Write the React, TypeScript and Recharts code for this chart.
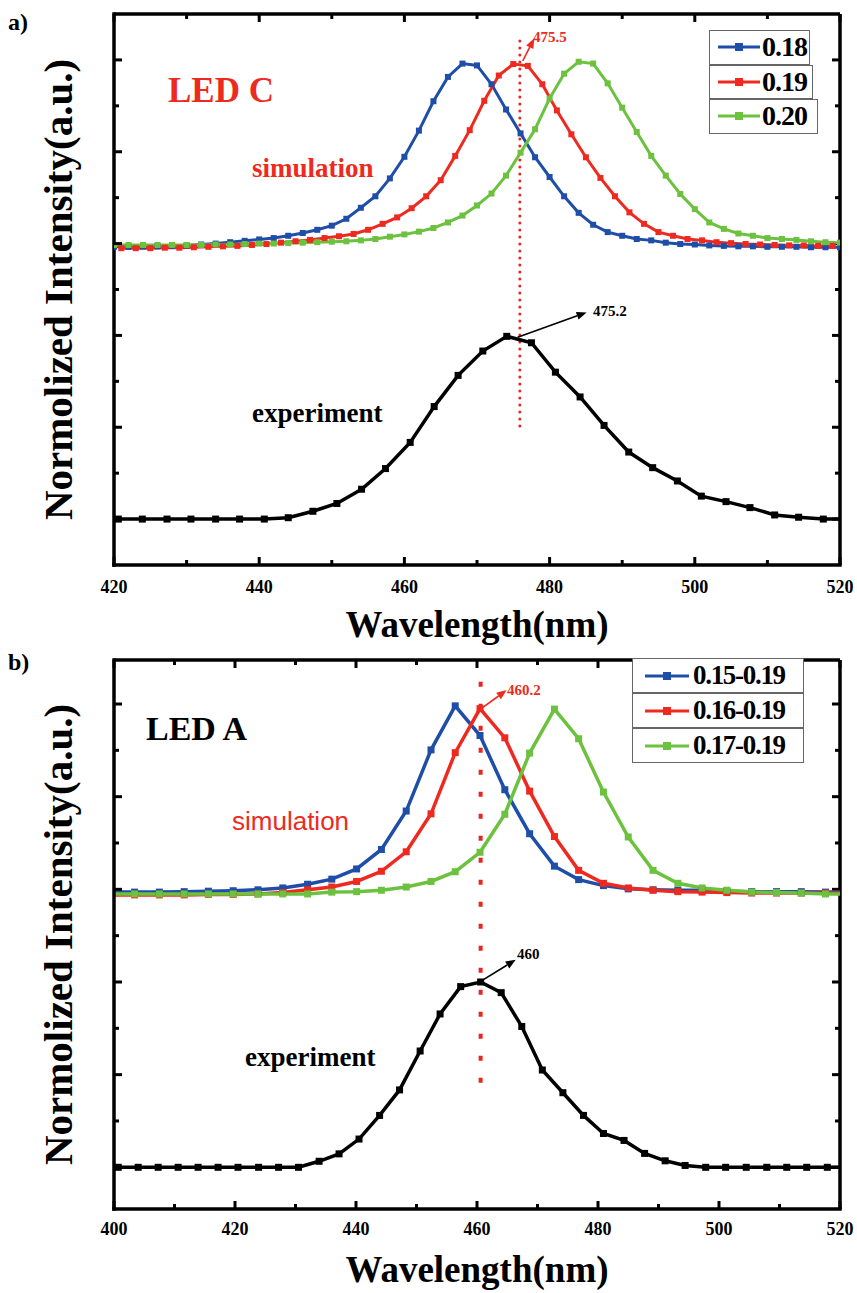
import React from "react";
import { LineChart, Line, XAxis, YAxis, ReferenceLine } from "recharts";

const SERIF = '"Liberation Serif", "Times New Roman", serif';
const SANS = '"Liberation Sans", Arial, sans-serif';
const BLUE = "#1f4ea8";
const RED = "#ee2a20";
const GREEN = "#6cc13f";
const DOTRED = "#e8261e";

// ---- panel a) LED C ----
const waveAEven = [
  420, 422, 424, 426, 428, 430, 432, 434, 436, 438, 440, 442, 444, 446, 448, 450, 452, 454, 456, 458,
  460, 462, 464, 466, 468, 470, 472, 474, 476, 478, 480, 482, 484, 486, 488, 490, 492, 494, 496, 498,
  500, 502, 504, 506, 508, 510, 512, 514, 516, 518, 520,
];
const waveAOdd = [
  421, 423, 425, 427, 429, 431, 433, 435, 437, 439, 441, 443, 445, 447, 449, 451, 453, 455, 457, 459,
  461, 463, 465, 467, 469, 471, 473, 475, 477, 479, 481, 483, 485, 487, 489, 491, 493, 495, 497, 499,
  501, 503, 505, 507, 509, 511, 513, 515, 517, 519,
];
const simA018 = [
  5.93, 5.93, 5.94, 5.94, 5.95, 5.96, 5.98, 6.0, 6.03, 6.06,
  6.09, 6.12, 6.17, 6.23, 6.3, 6.39, 6.54, 6.78, 7.03, 7.42,
  7.89, 8.46, 9.1, 9.63, 9.92, 9.88, 9.47, 8.92, 8.4, 7.88,
  7.45, 7.03, 6.67, 6.41, 6.25, 6.17, 6.1, 6.07, 6.02, 5.99,
  5.98, 5.96, 5.95, 5.94, 5.94, 5.93, 5.93, 5.93, 5.92, 5.92, 5.92,
];
const simA019 = [
  5.9, 5.9, 5.9, 5.91, 5.91, 5.92, 5.93, 5.94, 5.95, 5.97,
  5.99, 6.02, 6.05, 6.08, 6.12, 6.16, 6.21, 6.3, 6.43, 6.57,
  6.77, 7.03, 7.38, 7.91, 8.47, 9.11, 9.66, 9.91, 9.87, 9.47,
  8.9, 8.38, 7.88, 7.43, 7.03, 6.68, 6.43, 6.25, 6.17, 6.1,
  6.07, 6.03, 6.01, 5.99, 5.98, 5.97, 5.96, 5.96, 5.95, 5.95,
];
const simA020 = [
  5.97, 5.97, 5.97, 5.97, 5.97, 5.97, 5.97, 5.98, 5.98, 5.99,
  6.0, 6.0, 6.01, 6.02, 6.03, 6.04, 6.05, 6.07, 6.1, 6.15,
  6.2, 6.26, 6.34, 6.46, 6.61, 6.83, 7.09, 7.48, 7.98, 8.49,
  9.16, 9.7, 9.96, 9.92, 9.49, 8.96, 8.43, 7.91, 7.48, 7.08,
  6.75, 6.46, 6.32, 6.22, 6.17, 6.12, 6.1, 6.08, 6.05, 6.03, 6.02,
];
const expWaveA = [
  420.6, 423.9, 427.3, 430.6, 434.0, 437.3, 440.7, 444.0, 447.4, 450.7, 454.1, 457.4, 460.8, 464.1,
  467.4, 470.8, 474.1, 477.5, 480.8, 484.2, 487.5, 490.9, 494.2, 497.6, 500.9, 504.3, 507.6, 511.0,
  514.3, 517.7, 521.0,
];
const expA = [
  0, 0, 0, 0, 0, 0, 0, 0.03, 0.17, 0.34, 0.65, 1.1, 1.67, 2.45, 3.13, 3.66, 3.98,
  3.84, 3.2, 2.66, 2.04, 1.46, 1.12, 0.83, 0.5, 0.38, 0.25, 0.09, 0.04, 0, 0,
];
const namesA = ["0.18", "0.19", "0.20"];
const ticksA = [420, 430, 440, 450, 460, 470, 480, 490, 500, 510, 520];
const labelTicksA = [420, 440, 460, 480, 500, 520];

// ---- panel b) LED A ----
const waveB = [
  399.3, 403.4, 407.5, 411.6, 415.6, 419.7, 423.8, 427.9, 432.0, 436.0, 440.1, 444.2, 448.3, 452.4,
  456.4, 460.5, 464.6, 468.7, 472.8, 476.8, 480.9, 485.0, 489.1, 493.2, 497.2, 501.3, 505.4, 509.5,
  513.6, 517.6, 521.7,
];
const simB15 = [
  5.94, 5.94, 5.94, 5.95, 5.96, 5.97, 5.99, 6.03, 6.11, 6.22, 6.44, 6.86, 7.69, 9.01,
  9.96, 9.32, 8.15, 7.2, 6.5, 6.21, 6.08, 6.01, 5.99, 5.98, 5.98, 5.96, 5.95, 5.95,
  5.95, 5.94, 5.94,
];
const simB16 = [
  5.88, 5.88, 5.88, 5.88, 5.89, 5.89, 5.9, 5.93, 5.99, 6.05, 6.17, 6.39, 6.81, 7.63,
  8.95, 9.9, 9.27, 8.12, 7.14, 6.41, 6.13, 6.03, 5.98, 5.95, 5.94, 5.93, 5.92, 5.92,
  5.92, 5.92, 5.92,
];
const simB17 = [
  5.9, 5.9, 5.9, 5.9, 5.9, 5.9, 5.9, 5.9, 5.9, 5.94, 5.95, 5.98, 6.05, 6.17,
  6.38, 6.8, 7.62, 8.94, 9.89, 9.25, 8.1, 7.13, 6.41, 6.13, 6.03, 5.98, 5.94, 5.93,
  5.92, 5.9, 5.9,
];
const expWaveB = [
  400.7, 404.0, 407.3, 410.6, 413.9, 417.2, 420.5, 423.9, 427.2, 430.5, 433.9, 437.2, 440.5,
  443.9, 447.2, 450.6, 453.9, 457.3, 460.6, 464.0, 467.4, 470.8, 474.2, 477.6, 480.9, 484.3,
  487.7, 491.1, 494.4, 497.8, 501.1, 504.5, 507.9, 511.2, 514.5, 517.9, 521.2,
];
const expB = [
  0, 0, 0, 0, 0, 0, 0, 0, 0, 0, 0.13, 0.29, 0.61, 1.12, 1.67, 2.51, 3.31, 3.9, 4.0,
  3.77, 3.04, 2.1, 1.61, 1.12, 0.73, 0.58, 0.3, 0.14, 0.04, 0, 0, 0, 0, 0, 0, 0, 0,
];
const namesB = ["0.15-0.19", "0.16-0.19", "0.17-0.19"];
const ticksB = [400, 410, 420, 430, 440, 450, 460, 470, 480, 490, 500, 510, 520];
const labelTicksB = [400, 420, 440, 460, 480, 500, 520];

const yTicks = [0, 1, 2, 3, 4, 5, 6, 7, 8, 9, 10];
const yMajor = [0, 2, 4, 6, 8, 10];
const colors = [BLUE, RED, GREEN];

const zip = (xs: number[], ys: number[]) => xs.map((x, i) => ({ x, y: ys[i] }));

const squareDot = (color: string, s: number) => (p: any) => (
  <rect key={p.index} x={p.cx - s / 2} y={p.cy - s / 2} width={s} height={s} fill={color} />
);

const bottomTick = (labels: number[], dy: number) => (p: any) => {
  const major = labels.includes(p.payload.value);
  return (
    <g>
      <line x1={p.x} x2={p.x} y1={p.y} y2={p.y - (major ? 8 : 5)} stroke="#000" strokeWidth={3} />
      {major && (
        <text x={p.x} y={p.y + dy} textAnchor="middle" fontFamily={SERIF} fontWeight="bold" fontSize={18}>
          {p.payload.value}
        </text>
      )}
    </g>
  );
};
const leftTick = (p: any) => {
  const len = yMajor.includes(p.payload.value) ? 8 : 5;
  return <line x1={p.x} x2={p.x + len} y1={p.y} y2={p.y} stroke="#000" strokeWidth={3} />;
};

// inward ticks on the top and right edges of the frame
const topTickShape = (len: number) => (p: any) => {
  const y0 = Math.min(p.y1, p.y2);
  return <line x1={p.x1} x2={p.x1} y1={y0} y2={y0 + len} stroke="#000" strokeWidth={3} />;
};
const rightTickShape = (len: number) => (p: any) => {
  const x0 = Math.max(p.x1, p.x2);
  return <line x1={x0} x2={x0 - len} y1={p.y1} y2={p.y1} stroke="#000" strokeWidth={3} />;
};
const mirrorTicks = (xTicks: number[], xLabels: number[]) => [
  ...xTicks.map((v) => (
    <ReferenceLine key={`t${v}`} x={v} shape={topTickShape(xLabels.includes(v) ? 8 : 5)} />
  )),
  ...yTicks.map((v) => (
    <ReferenceLine key={`r${v}`} y={v} shape={rightTickShape(yMajor.includes(v) ? 8 : 5)} />
  )),
];

const arrow = (color: string) => (p: any) => {
  const { x1, y1, x2, y2 } = p;
  const a = Math.atan2(y2 - y1, x2 - x1);
  const L = 10;
  const W = 4;
  const bx = x2 - L * Math.cos(a);
  const by = y2 - L * Math.sin(a);
  const px = -Math.sin(a) * W;
  const py = Math.cos(a) * W;
  return (
    <g>
      <line x1={x1} y1={y1} x2={bx} y2={by} stroke={color} strokeWidth={1.6} />
      <polygon points={`${x2},${y2} ${bx + px},${by + py} ${bx - px},${by - py}`} fill={color} />
    </g>
  );
};

const axisLine = { stroke: "#000", strokeWidth: 3.5, strokeLinecap: "square" as const };
const frame = { stroke: "#000", strokeWidth: 3.5 };

function Legend({ left, top, h, widths, names, pad, lineW, textGap, fontSize, spacing }: any) {
  return (
    <div style={{ position: "absolute", left, top }}>
      {names.map((n: string, i: number) => (
        <div
          key={n}
          style={{
            position: "absolute", left: 0, top: i * h, width: widths[i], height: h,
            border: "1px solid #666", boxSizing: "border-box", background: "#fff",
            display: "flex", alignItems: "center", whiteSpace: "nowrap", overflow: "hidden",
          }}
        >
          <svg width={pad + lineW} height={12} style={{ flex: "none" }}>
            <line x1={pad} x2={pad + lineW} y1={6} y2={6} stroke={colors[i]} strokeWidth={3} />
            <rect x={pad + lineW / 2 - 4} y={2} width={8} height={8} fill={colors[i]} />
          </svg>
          <span
            style={{
              marginLeft: textGap, fontFamily: SERIF, fontWeight: "bold", fontSize,
              letterSpacing: spacing, lineHeight: 1,
            }}
          >
            {n}
          </span>
        </div>
      ))}
    </div>
  );
}

const yLabel = {
  value: "Normolized Intensity(a.u.)",
  angle: -90,
  position: "center" as const,
  style: { fontFamily: SERIF, fontWeight: "bold", fontSize: 41, fill: "#000" },
};
const xLabelStyle = { fontFamily: SERIF, fontWeight: "bold", fontSize: 37, fill: "#000" };

export default function App() {
  const t = (x: number, y: number, s: string, size: number, fill = "#000", family = SERIF, weight = "bold") => (
    <text x={x} y={y} fontFamily={family} fontWeight={weight} fontSize={size} fill={fill}>
      {s}
    </text>
  );
  return (
    <div style={{ position: "absolute", left: 0, top: 0, width: 857, height: 1293, background: "#fff" }}>
      <div style={{ position: "absolute", left: 0, top: 0 }}>
        <LineChart width={857} height={650} margin={{ top: 14, right: 17, bottom: 0, left: 0 }}>
          <XAxis
            dataKey="x" type="number" domain={[420, 520]} ticks={ticksA} allowDataOverflow
            height={85} tickSize={0} tickMargin={0} tickLine={false} axisLine={axisLine}
            tick={bottomTick(labelTicksA, 28)} interval={0}
            label={{ value: "Wavelength(nm)", position: "insideBottom", offset: 13, style: xLabelStyle }}
          />
          <YAxis
            type="number" domain={[-1, 11]} ticks={yTicks} width={114} tickSize={0} tickMargin={0}
            tickLine={false} axisLine={axisLine} tick={leftTick} interval={0} label={yLabel}
          />
          <ReferenceLine y={11} {...frame} />
          <ReferenceLine x={520} {...frame} />
          {mirrorTicks(ticksA, labelTicksA)}
          <ReferenceLine
            segment={[{ x: 475.9, y: 10.41 }, { x: 475.9, y: 1.93 }]}
            stroke={DOTRED} strokeWidth={3} strokeDasharray="0 7" strokeLinecap="round"
          />
          <Line data={zip(waveAEven, simA018)} dataKey="y" name={namesA[0]} stroke={BLUE} strokeWidth={3} dot={squareDot(BLUE, 6)} isAnimationActive={false} />
          <Line data={zip(waveAOdd, simA019)} dataKey="y" name={namesA[1]} stroke={RED} strokeWidth={3} dot={squareDot(RED, 6)} isAnimationActive={false} />
          <Line data={zip(waveAEven, simA020)} dataKey="y" name={namesA[2]} stroke={GREEN} strokeWidth={3} dot={squareDot(GREEN, 6)} isAnimationActive={false} />
          <Line data={zip(expWaveA, expA)} dataKey="y" name="experiment" stroke="#000" strokeWidth={3.5} dot={squareDot("#000", 7)} isAnimationActive={false} />
          <ReferenceLine segment={[{ x: 476.3, y: 9.98 }, { x: 477.9, y: 10.47 }]} shape={arrow(RED)} />
          <ReferenceLine segment={[{ x: 475.6, y: 3.96 }, { x: 485.1, y: 4.5 }]} shape={arrow("#000")} />
        </LineChart>
      </div>

      <div style={{ position: "absolute", left: 0, top: 650 }}>
        <LineChart width={857} height={643} margin={{ top: 10, right: 17, bottom: 0, left: 0 }}>
          <XAxis
            dataKey="x" type="number" domain={[400, 520]} ticks={ticksB} allowDataOverflow
            height={84} tickSize={0} tickMargin={0} tickLine={false} axisLine={axisLine}
            tick={bottomTick(labelTicksB, 26)} interval={0}
            label={{ value: "Wavelength(nm)", position: "insideBottom", offset: 11, style: xLabelStyle }}
          />
          <YAxis
            type="number" domain={[-0.9, 10.95]} ticks={yTicks} width={114} tickSize={0} tickMargin={0}
            tickLine={false} axisLine={axisLine} tick={leftTick} interval={0} label={yLabel}
          />
          <ReferenceLine y={10.95} {...frame} />
          <ReferenceLine x={520} {...frame} />
          {mirrorTicks(ticksB, labelTicksB)}
          <ReferenceLine
            segment={[{ x: 460.6, y: 10.48 }, { x: 460.6, y: 1.76 }]}
            stroke={DOTRED} strokeWidth={4} strokeDasharray="5 17"
          />
          <Line data={zip(waveB, simB15)} dataKey="y" name={namesB[0]} stroke={BLUE} strokeWidth={3.5} dot={squareDot(BLUE, 7)} isAnimationActive={false} />
          <Line data={zip(waveB, simB16)} dataKey="y" name={namesB[1]} stroke={RED} strokeWidth={3.5} dot={squareDot(RED, 7)} isAnimationActive={false} />
          <Line data={zip(waveB, simB17)} dataKey="y" name={namesB[2]} stroke={GREEN} strokeWidth={3.5} dot={squareDot(GREEN, 7)} isAnimationActive={false} />
          <Line data={zip(expWaveB, expB)} dataKey="y" name="experiment" stroke="#000" strokeWidth={3.5} dot={squareDot("#000", 7)} isAnimationActive={false} />
          <ReferenceLine segment={[{ x: 460.8, y: 9.91 }, { x: 464.9, y: 10.3 }]} shape={arrow(RED)} />
          <ReferenceLine segment={[{ x: 460.8, y: 4.03 }, { x: 466.4, y: 4.48 }]} shape={arrow("#000")} />
        </LineChart>
      </div>

      <Legend left={709} top={30} h={34.5} widths={[101, 104, 109]} names={namesA} pad={8} lineW={42} textGap={2} fontSize={28} spacing={-1} />
      <Legend left={632} top={658} h={35} widths={[172, 172, 172]} names={namesB} pad={12} lineW={44} textGap={4} fontSize={27} spacing={-1.3} />

      <svg width={857} height={1293} style={{ position: "absolute", left: 0, top: 0, pointerEvents: "none" }}>
        {t(8, 30, "a)", 24)}
        {t(168, 102, "LED C", 35, RED)}
        {t(252, 177, "simulation", 27, RED)}
        {t(252, 422, "experiment", 27)}
        {t(533, 42, "475.5", 15, RED)}
        {t(593, 316, "475.2", 15)}
        {t(8, 670, "b)", 24)}
        {t(146, 740, "LED A", 34)}
        {t(232, 830, "simulation", 26, RED, SANS, "normal")}
        {t(245, 1066, "experiment", 27)}
        {t(507, 695, "460.2", 15, RED)}
        {t(517, 959, "460", 15)}
      </svg>
    </div>
  );
}
